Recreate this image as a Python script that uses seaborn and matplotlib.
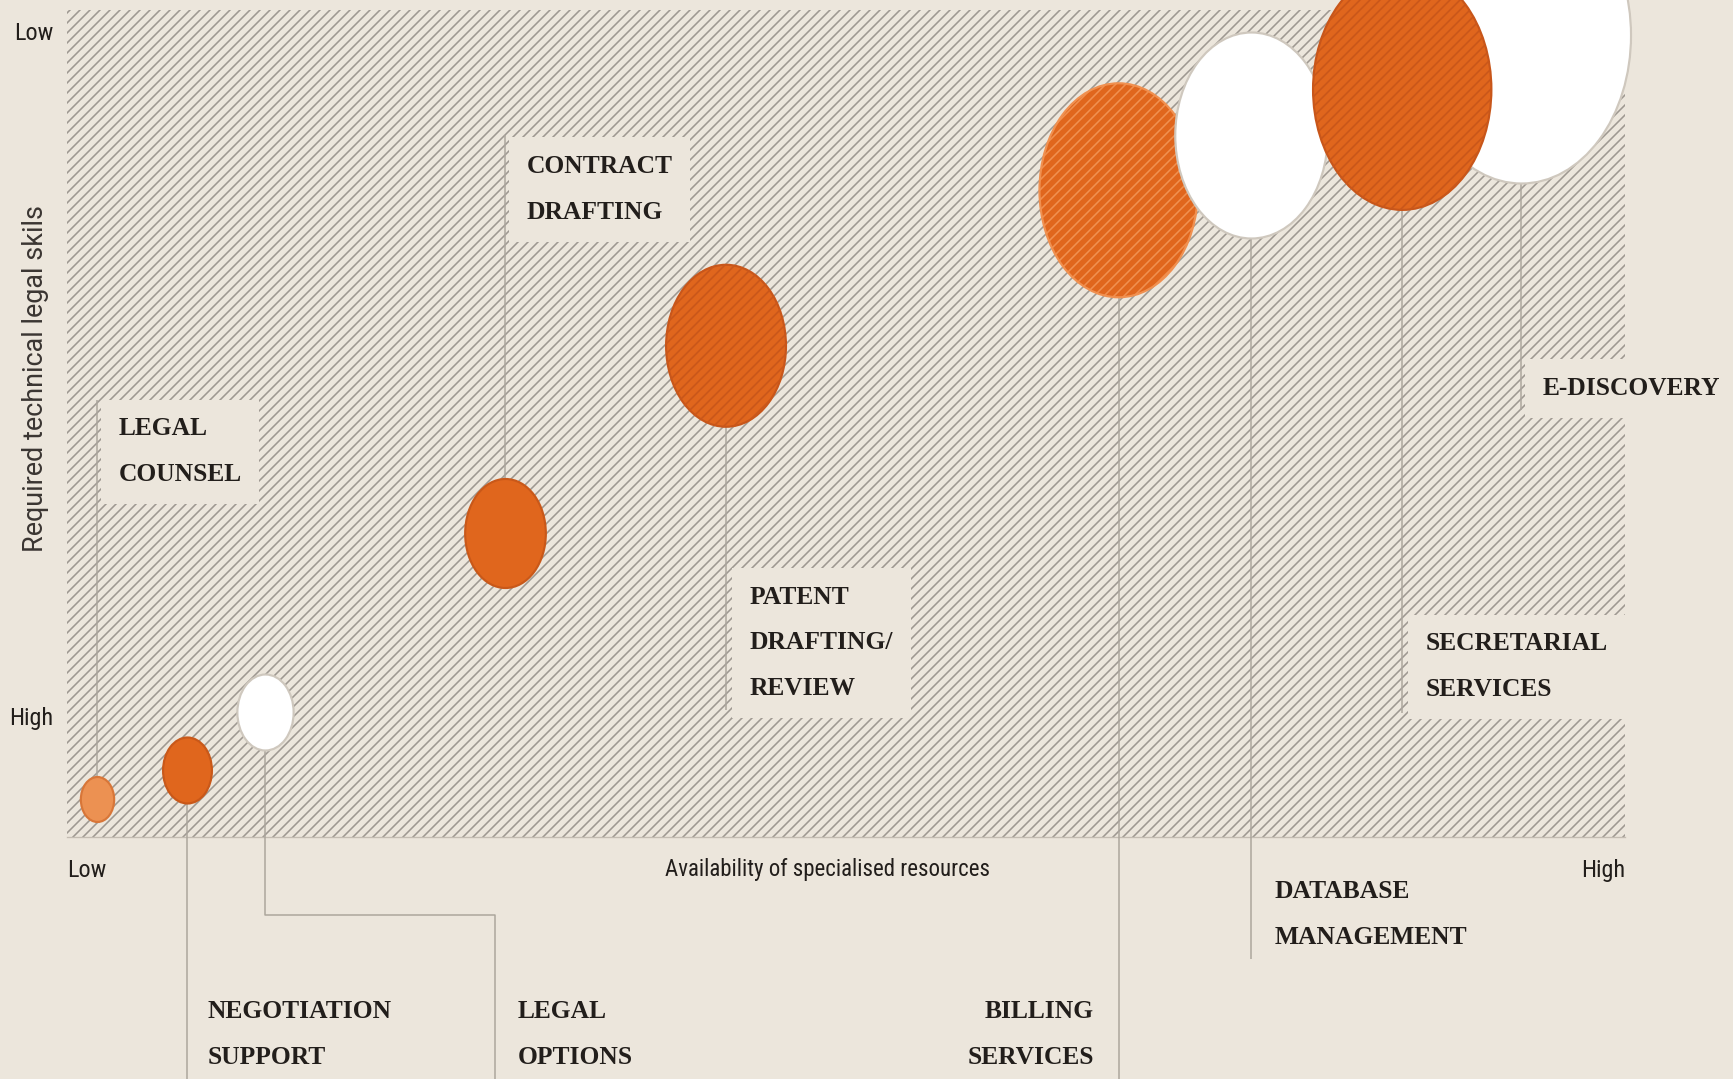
import numpy as np
import pandas as pd
import matplotlib
matplotlib.use("Agg")
import matplotlib.pyplot as plt
from matplotlib.path import Path
from matplotlib.markers import MarkerStyle
from matplotlib.patches import Rectangle
import seaborn as sns

# ---------------- data ----------------
services = ["LEGAL\nCOUNSEL", "NEGOTIATION\nSUPPORT", "LEGAL\nOPTIONS", "CONTRACT\nDRAFTING",
            "PATENT\nDRAFTING/\nREVIEW", "BILLING\nSERVICES", "DATABASE\nMANAGEMENT",
            "SECRETARIAL\nSERVICES", "E-DISCOVERY"]
availability = [1.9, 7.7, 12.7, 28.1, 42.3, 67.5, 76.0, 85.7, 93.3]      # 0 = low, 100 = high
skills_required = [95.4, 91.9, 84.9, 63.2, 40.6, 21.8, 15.1, 9.6, 3.0]  # 0 = low (top), 100 = high
bubble_size = [45, 66, 76, 109, 162, 214, 206, 241, 296]
bubble_kind = ["light", "orange", "white", "orange", "hatched_dark",
               "hatched_light", "white", "hatched_dark", "white"]
x_tick_labels = ["Low", "High"]
y_tick_labels = ["Low", "High"]
x_title = "Availability of specialised resources"
y_title = "Required technical legal skils"

# ---------------- styling / layout ----------------
BG = "#ECE6DC"
HATCH_GREY = "#9E9891"
LEADER = "#ABA59C"
TEXT = "#221E1B"
HATCH = "////"
styles = {
    "light":         dict(fc="#EC9152", ec="#D87638", hatch=None),
    "orange":        dict(fc="#E0661D", ec="#C95819", hatch=None),
    "white":         dict(fc="#FFFFFF", ec="#CFC8BE", hatch=None),
    "hatched_dark":  dict(fc="#E0661D", ec="#C8561A", hatch=HATCH),
    "hatched_light": dict(fc="#E0661D", ec="#F09050", hatch=HATCH),
}
draw_order = [0, 1, 2, 3, 4, 5, 6, 8, 7]

# label layout: text x, text y (centre), alignment, boxed, leader path (after the bubble)
label_layout = [
    dict(tx=3.3, ty=53.4, ha="left", box=True, path=[47.2]),
    dict(tx=9.05, ty=123.9, ha="left", box=False, path=[129.5]),
    dict(tx=28.9, ty=123.9, ha="left", box=False, path=[109.4, ("x", 27.47), 129.5]),
    dict(tx=29.5, ty=21.7, ha="left", box=True, path=[15.1]),
    dict(tx=43.8, ty=76.5, ha="left", box=True, path=[84.6]),
    dict(tx=65.9, ty=123.9, ha="right", box=False, path=[129.5]),
    dict(tx=77.5, ty=109.4, ha="left", box=False, path=[114.8]),
    dict(tx=87.2, ty=79.4, ha="left", box=True, path=[85.0]),
    dict(tx=94.7, ty=45.8, ha="left", box=True, path=[48.4]),
]

df = pd.DataFrame({"service": services, "availability": availability,
                   "skills": skills_required, "size": bubble_size, "kind": bubble_kind})

sns.set_theme(style="white")
plt.rcParams["hatch.linewidth"] = 0.95
SERIF = ["Liberation Serif", "DejaVu Serif"]
SANS_COND = ["Roboto Condensed", "Liberation Sans Narrow", "Roboto", "DejaVu Sans"]
SANS = ["Roboto", "DejaVu Sans"]

DPI = 120
fig = plt.figure(figsize=(1733 / DPI, 1079 / DPI), dpi=DPI, facecolor=BG)
ax = fig.add_axes([67 / 1733, (1079 - 837) / 1079, 1558 / 1733, 827 / 1079])
ax.set_facecolor(BG)
ax.set_xlim(0, 100)
ax.set_ylim(100, 0)

# hatched background
ax.add_patch(Rectangle((0, 0), 1, 1, transform=ax.transAxes, facecolor="none",
                       edgecolor=HATCH_GREY, hatch=HATCH, lw=0, zorder=0.5))

# ellipse marker (bubbles are drawn taller than wide)
circ = Path.unit_circle()
ellipse = MarkerStyle(Path(circ.vertices * np.array([0.74, 1.0]), circ.codes))

# leader lines
for i, lay in enumerate(label_layout):
    x0, y0 = df.availability[i], df.skills[i]
    xs, ys = [x0], [y0]
    cx = x0
    for p in lay["path"]:
        if isinstance(p, tuple):
            cx = p[1]
            xs.append(cx); ys.append(ys[-1])
        else:
            xs.append(cx); ys.append(p)
    ax.plot(xs, ys, color=LEADER, lw=0.9, zorder=1, clip_on=False, solid_capstyle="butt")

# bubbles
for k, i in enumerate(draw_order):
    st = styles[df.kind[i]]
    sub = df.iloc[[i]]
    s = (sub["size"].to_numpy() * 72 / DPI) ** 2
    sns.scatterplot(data=sub, x="availability", y="skills", s=s, marker=ellipse,
                    color=st["fc"], edgecolor=st["ec"], linewidth=1.3, hatch=st["hatch"],
                    ax=ax, zorder=3 + k, clip_on=False, legend=False)

# labels
for i, lay in enumerate(label_layout):
    kw = {}
    if lay["box"]:
        kw["bbox"] = dict(boxstyle="square,pad=0.7", fc=BG, ec="none")
    ax.text(lay["tx"], lay["ty"], df.service[i], ha=lay["ha"], va="center",
            family=SERIF, weight="bold", fontsize=15.3, color=TEXT,
            linespacing=2.25, zorder=2, clip_on=False, **kw)

# axes decoration
for sp in ["top", "right", "left"]:
    ax.spines[sp].set_visible(False)
ax.spines["bottom"].set_color("#C3BCB2")
ax.spines["bottom"].set_linewidth(0.8)
ax.spines["bottom"].set_zorder(0.6)

ax.set_xticks([0, 100], x_tick_labels)
ax.set_yticks([2.54, 85.4], y_tick_labels)
ax.tick_params(axis="x", length=0, pad=13, labelsize=14.5, labelcolor=TEXT)
ax.tick_params(axis="y", length=0, pad=8, labelsize=14.5, labelcolor=TEXT)
xl = ax.get_xticklabels()
xl[0].set_ha("left"); xl[1].set_ha("right")
for t in xl + ax.get_yticklabels():
    t.set_family(SANS_COND)

ax.set_xlabel(x_title, family=SANS_COND, fontsize=13.7, color=TEXT)
ax.xaxis.set_label_coords(0.488, -0.0387)
ax.xaxis.label.set_va("center")
ax.set_ylabel(y_title, family=SANS, fontsize=16.2, color="#3A3532")
ax.yaxis.set_label_coords(-0.0205, 0.555)
ax.yaxis.label.set_va("center")
ax.grid(False)

fig.savefig("out.png", dpi=DPI, facecolor=BG)
